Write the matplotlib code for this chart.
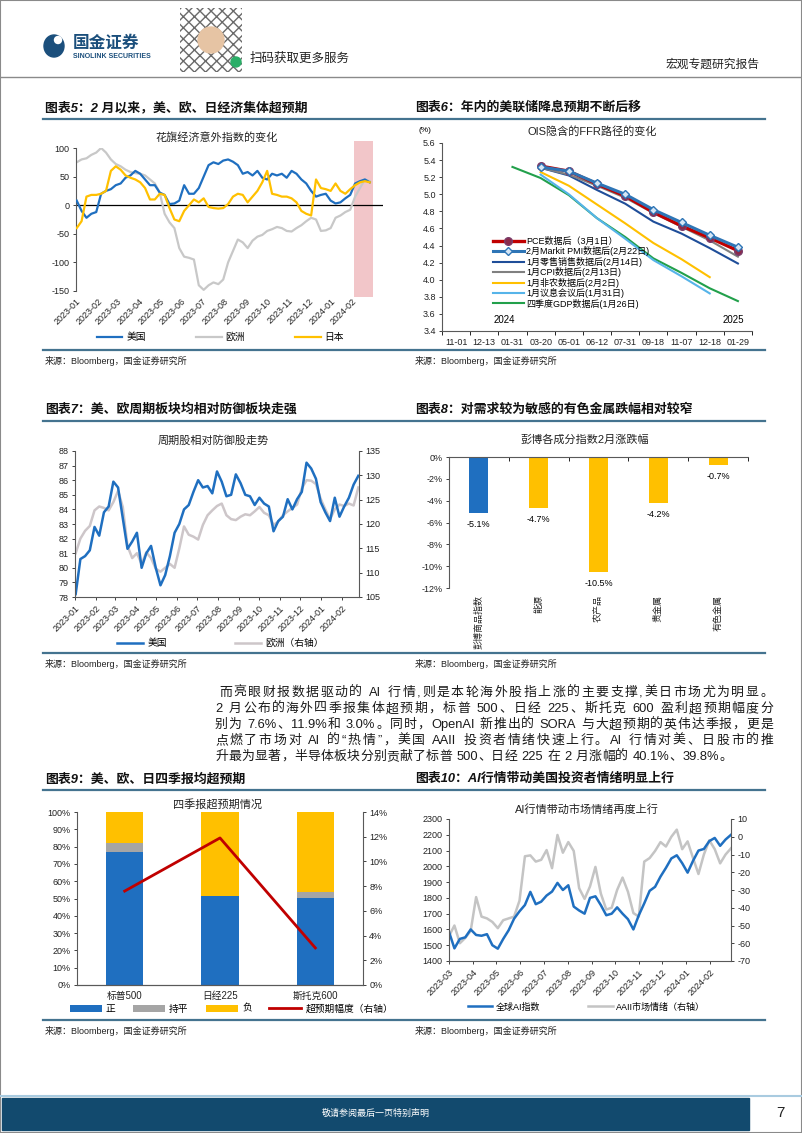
import re
import numpy as np
import pandas as pd
import matplotlib
matplotlib.use('Agg')
import matplotlib.pyplot as plt
from matplotlib.lines import Line2D
from matplotlib.patches import Rectangle, Ellipse
from matplotlib.ticker import FuncFormatter

plt.rcParams['font.family'] = ['Liberation Sans', 'Noto Sans CJK SC', 'DejaVu Sans']
plt.rcParams['axes.unicode_minus'] = False

# ---------------- data ----------------
# chart 5: Citi economic surprise index, weekly from 2023-01-02
us_csi = [8, -10, -22, -15, -12, 20, 25, 28, 35, 38, 48, 52, 60, 55, 45, 35, 35, 22, 18, 2,
          3, 8, 35, 20, 20, 30, 50, 70, 75, 72, 78, 80, 76, 70, 55, 58, 52, 60, 48, 45,
          55, 52, 55, 48, 60, 55, 45, 38, 25, 15, 18, 20, 8, 3, 5, 12, 18, 38, 42, 45, 40]
eu_csi = [75, 80, 82, 88, 92, 100, 92, 80, 72, 68, 62, 58, 56, 55, 52, 45, 38, 22, -15, -30,
          -40, -75, -90, -92, -95, -140, -148, -140, -135, -138, -130, -100, -80, -60, -65, -75, -62, -55, -52, -45,
          -42, -38, -40, -45, -46, -40, -35, -28, -22, -25, -45, -44, -40, -22, -18, -12, -8, 15, 30, 45, 42]
jp_csi = [-40, -28, 15, 18, 18, 20, 25, 60, 68, 62, 52, 48, 45, 40, 30, 10, 10, 20, 18, -5,
          -25, -28, -10, 0, 10, 5, 12, -3, -5, -6, -5, 2, 15, 20, 18, 5, 15, 25, 40, 60,
          20, 18, 15, 15, 12, 5, -10, -15, -18, 45, 30, 28, 25, 38, 25, 20, 28, 35, 40, 42, 40]

# chart 6: OIS implied FFR path by FOMC meeting
fomc_dates = ['11-01', '12-13', '01-31', '03-20', '05-01', '06-12', '07-31', '09-18', '11-07', '12-18', '01-29']
nan = np.nan
ffr_pce = [nan, nan, nan, 5.33, 5.27, 5.12, 4.98, 4.79, 4.63, 4.49, 4.34]
ffr_pmi = [nan, nan, nan, 5.32, 5.27, 5.13, 5.00, 4.82, 4.67, 4.52, 4.38]
ffr_retail = [nan, nan, nan, 5.31, 5.22, 5.05, 4.89, 4.68, 4.54, 4.37, 4.19]
ffr_cpi = [nan, nan, nan, 5.31, 5.23, 5.10, 4.96, 4.78, 4.62, 4.46, 4.27]
ffr_nfp = [nan, nan, nan, 5.26, 5.10, 4.88, 4.66, 4.43, 4.24, 4.03, nan]
ffr_fomc = [nan, nan, nan, 5.23, 5.00, 4.72, 4.48, 4.23, 4.04, 3.84, nan]
ffr_gdp = [nan, nan, 5.32, 5.19, 4.99, 4.72, 4.50, 4.25, 4.08, 3.90, 3.75]
ffr_labels = ['PCE数据后（3月1日）', '2月Markit PMI数据后(2月22日)', '1月零售销售数据后(2月14日)',
              '1月CPI数据后(2月13日)', '1月非农数据后(2月2日)', '1月议息会议后(1月31日)', '四季度GDP数据后(1月26日)']

# chart 7: cyclicals vs defensives, weekly from 2023-01-02
us_cyc = [78.2, 80.6, 80.8, 81.2, 82.8, 82.2, 83.8, 84.2, 85.9, 85.5, 83.4, 81.3, 81.8, 82.4, 80.0, 81.0,
          81.5, 80.0, 78.8, 79.5, 80.8, 82.4, 83.0, 84.0, 84.3, 85.2, 86.0, 85.5, 85.6, 85.1, 86.6, 85.9,
          84.9, 85.0, 86.4, 85.8, 85.0, 84.9, 84.3, 84.8, 84.4, 84.2, 82.5, 83.2, 83.5, 84.7, 84.0, 84.7,
          85.2, 87.2, 86.8, 86.1, 84.5, 83.8, 83.2, 84.8, 83.5, 84.2, 84.8, 85.7, 86.3]
eu_cyc = [114.0, 117.0, 118.6, 119.6, 122.8, 123.6, 123.3, 122.8, 124.5, 126.8, 123.5, 115.5, 113.0, 114.0,
          111.8, 114.2, 113.0, 110.8, 110.2, 111.0, 111.8, 111.0, 115.0, 119.5, 117.8, 117.4, 116.8, 119.8,
          121.8, 122.8, 123.7, 124.2, 121.8, 121.0, 120.8, 121.5, 122.0, 121.8, 122.6, 123.5, 122.3, 121.8,
          119.8, 120.5, 121.8, 122.6, 123.3, 124.0, 127.3, 129.0, 128.9, 128.2, 125.2, 123.0, 121.0, 123.0,
          124.0, 123.7, 124.2, 123.8, 127.5]

# chart 8: BCOM sub-index change in February (%)
bcom_names = ['彭博商品指数', '能源', '农产品', '贵金属', '有色金属']
bcom_chg = [-5.1, -4.7, -10.5, -4.2, -0.7]

# chart 9: Q4 earnings beats
idx9 = ['标普500', '日经225', '斯托克600']
beat_pos = [76.7, 51.5, 50.2]
beat_flat = [5.6, 0.0, 3.6]
beat_neg = [17.7, 48.5, 46.2]
beat_size = [7.6, 11.9, 3.0]

# chart 10: global AI index & AAII sentiment, weekly from 2023-03-01
ai_idx = [1585, 1480, 1540, 1550, 1600, 1565, 1560, 1570, 1500, 1478, 1540, 1595, 1668, 1715, 1755, 1838,
          1760, 1776, 1815, 1840, 1895, 1850, 1880, 1745, 1720, 1700, 1800, 1810, 1754, 1690, 1700, 1740,
          1700, 1665, 1600, 1690, 1765, 1845, 1870, 1935, 1990, 2050, 2070, 2020, 1960, 2035, 2100, 2110,
          2160, 2180, 2130, 2170, 2200]
aaii = [-56, -50, -60, -57, -53, -34, -45, -46, -48, -51.5, -47, -46, -45, -36, -11, -10.5,
        -14, -13, -7.5, -17.7, 1, -9, -3, -8, -29, -35, -28, -17, -32, -41, -40, -30,
        -23, -31, -43, -45, -14, -12, -8, -3, -5.5, 0, 4, -7, -2.6, -12, -21, -10,
        -2, -7, -15, -10, -6.5]

# body paragraph
body = ['而亮眼财报数据驱动的 AI 行情,则是本轮海外股指上涨的主要支撑,美日市场尤为明显。',
        '2 月公布的海外四季报集体超预期，标普 500、日经 225、斯托克 600 盈利超预期幅度分',
        '别为 7.6%、11.9%和 3.0%。同时，OpenAI 新推出的 SORA 与大超预期的英伟达季报，更是',
        '点燃了市场对 AI 的“热情”，美国 AAII 投资者情绪快速上行。AI 行情对美、日股市的推',
        '升最为显著，半导体板块分别贡献了标普 500、日经 225 在 2 月涨幅的 40.1%、39.8%。']

BLUE = '#1f6fc0'
YELLOW = '#ffc000'
GRAY = '#c8c8c8'
RULE = '#44738f'

W, H = 802, 1133
fig = plt.figure(figsize=(W / 100, H / 100), dpi=100)


def box(l, t, r, b):
    return [l / W, 1 - b / H, (r - l) / W, (b - t) / H]


def ftext(x, y, s, **kw):
    return fig.text(x / W, 1 - y / H, s, **kw)


def hline(x0, x1, y, **kw):
    fig.add_artist(Line2D([x0 / W, x1 / W], [1 - y / H] * 2, transform=fig.transFigure, **kw))


def style(ax, fs=6.5):
    ax.tick_params(labelsize=fs, length=2.5, width=0.6, colors='#222222', pad=2)
    for s in ax.spines.values():
        s.set_color('#595959')
        s.set_linewidth(0.8)


def legend_at(handles, labels, x, y, **kw):
    fig.legend(handles, labels, loc='center left', bbox_to_anchor=(x / W, 1 - y / H),
               frameon=False, borderpad=0, borderaxespad=0, **kw)


# ---------------- page frame / header / footer ----------------
fig.add_artist(Rectangle((0, 0), 1, 1, transform=fig.transFigure, fill=False, edgecolor='#8a8a8a', lw=1.5))
fig.add_artist(Ellipse((54 / W, 1 - 46 / H), 20 / W, 22 / H, transform=fig.transFigure, color='#1b4f7c'))
fig.add_artist(Ellipse((58 / W, 1 - 40 / H), 7 / W, 7 / H, transform=fig.transFigure, color='white'))
ftext(73, 43, '国金证券', fontsize=12, fontweight='bold', color='#1b4f7c', va='center')
ftext(73, 56, 'SINOLINK SECURITIES', fontsize=5, fontweight='bold', color='#1b4f7c', va='center')
fig.add_artist(Rectangle((180 / W, 1 - 72 / H), 62 / W, 64 / H, transform=fig.transFigure,
                         facecolor='white', edgecolor='#6a6a6a', hatch='xxx', lw=0))
fig.add_artist(Ellipse((211 / W, 1 - 40 / H), 26 / W, 26 / H, transform=fig.transFigure, color='#e6c4a4'))
fig.add_artist(Ellipse((236 / W, 1 - 62 / H), 10 / W, 10 / H, transform=fig.transFigure, color='#2aae67'))
ftext(250, 59, '扫码获取更多服务', fontsize=9, color='#222222', va='center')
ftext(760, 65, '宏观专题研究报告', fontsize=8.5, color='#222222', va='center', ha='right')
hline(0, 802, 77, color='#8a8a8a', lw=1)

hline(0, 802, 1096, color='#a9cbe0', lw=1.5)
fig.add_artist(Rectangle((2 / W, 1 - 1130 / H), 747 / W, 32 / H, transform=fig.transFigure, color='#124a6e'))
ftext(376, 1113, '敬请参阅最后一页特别声明', fontsize=6.5, color='white', ha='center', va='center')
ftext(780, 1113, '7', fontsize=11, color='#222222', ha='center', va='center')

# section titles and rules
for x, y, s in [(45, 108, '图表5：2 月以来，美、欧、日经济集体超预期'),
                (415, 108, '图表6：年内的美联储降息预期不断后移'),
                (45, 410, '图表7：美、欧周期板块均相对防御板块走强'),
                (415, 410, '图表8：对需求较为敏感的有色金属跌幅相对较窄'),
                (45, 779, '图表9：美、欧、日四季报均超预期'),
                (415, 779, '图表10：AI行情带动美国投资者情绪明显上行')]:
    ftext(x, y, s, fontsize=9.3, fontweight='bold', style='italic', color='#111111', va='center')
for y in [119, 350, 421, 653, 790, 1020]:
    hline(43, 765, y, color=RULE, lw=1.6)
for y in [361, 664, 1031]:
    ftext(45, y, '来源：Bloomberg，国金证券研究所', fontsize=6.5, color='#222222', va='center')
    ftext(415, y, '来源：Bloomberg，国金证券研究所', fontsize=6.5, color='#222222', va='center')

# ---------------- chart 5 ----------------
ax5 = fig.add_axes(box(76, 148, 383, 291))
d5 = pd.date_range('2023-01-02', periods=len(us_csi), freq='7D')
ax5.axvspan(pd.Timestamp('2024-02-04'), pd.Timestamp('2024-03-01'), ymin=-0.045, ymax=1.05,
            color='#f2c6c9', lw=0, zorder=0, clip_on=False)
ax5.axhline(0, color='black', lw=0.9, zorder=1)
l5e, = ax5.plot(d5, eu_csi, color=GRAY, lw=1.6, zorder=2)
l5u, = ax5.plot(d5, us_csi, color=BLUE, lw=1.6, zorder=3)
l5j, = ax5.plot(d5, jp_csi, color=YELLOW, lw=1.6, zorder=4)
ax5.set_ylim(-150, 100)
ax5.set_yticks([-150, -100, -50, 0, 50, 100])
ax5.set_xlim(pd.Timestamp('2023-01-01'), pd.Timestamp('2024-03-16'))
m5 = pd.date_range('2023-01-01', '2024-02-01', freq='MS')
ax5.set_xticks(m5)
ax5.set_xticklabels([m.strftime('%Y-%m') for m in m5], rotation=45, ha='right', rotation_mode='anchor')
style(ax5)
ax5.tick_params(axis='x', length=0, pad=4)
for s in ['top', 'right', 'bottom']:
    ax5.spines[s].set_visible(False)
ftext(217, 137, '花旗经济意外指数的变化', fontsize=8, ha='center', va='center', color='#222222')
legend_at([l5u, l5e, l5j], ['美国', '欧洲', '日本'], 97, 337, ncol=3, fontsize=7,
          handlelength=2.6, handletextpad=0.4, columnspacing=5.2)

# ---------------- chart 6 ----------------
ax6 = fig.add_axes(box(442, 143, 752, 331))
x6 = np.arange(len(fomc_dates))
h6 = []
h6.append(ax6.plot(x6, ffr_pce, color='#c00000', lw=2.4, marker='o', ms=5.5,
                   mfc='#8b2a4a', mec='#7a3d6b', zorder=5)[0])
h6.append(ax6.plot(x6, ffr_pmi, color='#2e75b6', lw=2.2, marker='D', ms=4,
                   mfc='#d6e6f5', mec='#2e75b6', zorder=6)[0])
h6.append(ax6.plot(x6, ffr_retail, color='#1f4e99', lw=1.5, zorder=4)[0])
h6.append(ax6.plot(x6, ffr_cpi, color='#808080', lw=1.5, zorder=4)[0])
h6.append(ax6.plot(x6, ffr_nfp, color=YELLOW, lw=1.5, zorder=3)[0])
h6.append(ax6.plot(x6, ffr_fomc, color='#56b4e9', lw=1.5, zorder=3)[0])
h6.append(ax6.plot(x6, ffr_gdp, color='#22a04b', lw=1.5, zorder=2)[0])
ax6.set_xlim(-0.5, 10.5)
ax6.set_ylim(3.4, 5.6)
ax6.set_yticks(np.arange(3.4, 5.61, 0.2))
ax6.yaxis.set_major_formatter(FuncFormatter(lambda v, p: f'{v:.1f}'))
ax6.set_xticks(x6)
ax6.set_xticklabels(fomc_dates)
ax6.set_xticks(np.arange(-0.5, 11, 1), minor=True)
style(ax6)
ax6.tick_params(axis='x', which='major', length=0, pad=5)
ax6.tick_params(axis='x', which='minor', length=3, width=0.6)
for s in ['top', 'right']:
    ax6.spines[s].set_visible(False)
ax6.text(1.7, 3.47, '2024', fontsize=7, ha='center', va='bottom')
ax6.text(9.85, 3.47, '2025', fontsize=7, ha='center', va='bottom')
ftext(425, 130, '(%)', fontsize=6, ha='center', va='center')
ftext(592, 131, 'OIS隐含的FFR路径的变化', fontsize=8, ha='center', va='center', color='#222222')
ax6.legend(h6, ffr_labels, loc='lower left', bbox_to_anchor=(0.15, 0.095), frameon=False, fontsize=6.5,
           handlelength=3.4, labelspacing=0.05, borderpad=0, handletextpad=0.3)

# ---------------- chart 7 ----------------
ax7 = fig.add_axes(box(75, 451, 359, 597))
ax7b = ax7.twinx()
d7 = pd.date_range('2023-01-02', periods=len(us_cyc), freq='7D')
l7e, = ax7b.plot(d7, eu_cyc, color='#cdc6c9', lw=1.8)
l7u, = ax7.plot(d7, us_cyc, color=BLUE, lw=1.8)
ax7.set_zorder(ax7b.get_zorder() + 1)
ax7.patch.set_visible(False)
ax7.set_ylim(78, 88)
ax7.set_yticks(range(78, 89))
ax7b.set_ylim(105, 135)
ax7b.set_yticks(range(105, 136, 5))
ax7.set_xlim(pd.Timestamp('2023-01-01'), pd.Timestamp('2024-02-27'))
m7 = pd.date_range('2023-01-01', '2024-02-01', freq='MS')
ax7.set_xticks(m7)
ax7.set_xticklabels([m.strftime('%Y-%m') for m in m7], rotation=45, ha='right', rotation_mode='anchor')
style(ax7)
style(ax7b)
ax7.tick_params(axis='x', length=2, pad=3)
for a in (ax7, ax7b):
    a.spines['top'].set_visible(False)
ax7.spines['right'].set_visible(False)
ax7b.spines['left'].set_visible(False)
ax7b.spines['bottom'].set_visible(False)
ftext(213, 441, '周期股相对防御股走势', fontsize=8, ha='center', va='center', color='#222222')
legend_at([l7u, l7e], ['美国', '欧洲（右轴）'], 117, 643, ncol=2, fontsize=7,
          handlelength=2.7, handletextpad=0.4, columnspacing=7.0)

# ---------------- chart 8 ----------------
ax8 = fig.add_axes(box(449, 457, 748, 588))
x8 = np.arange(len(bcom_names))
bars8 = ax8.bar(x8, bcom_chg, width=0.32, color=[BLUE] + [YELLOW] * 4)
ax8.bar_label(bars8, labels=[f'{v:.1f}%' for v in bcom_chg], padding=5, fontsize=6.5)
ax8.set_ylim(-12, 0)
ax8.set_xlim(-0.5, 4.5)
ax8.set_yticks(range(-12, 1, 2))
ax8.yaxis.set_major_formatter(FuncFormatter(lambda v, p: f'{v:.0f}%'))
ax8.set_xticks(x8)
ax8.set_xticklabels(bcom_names, rotation=90, fontsize=6.5)
ax8.set_xticks(np.arange(-0.5, 5, 1), minor=True)
style(ax8)
ax8.tick_params(axis='x', which='major', length=0, pad=5, labelsize=6.5)
ax8.tick_params(axis='x', which='minor', top=True, bottom=False, direction='in', length=3)
ax8.spines['bottom'].set_visible(False)
ax8.spines['right'].set_visible(False)
ftext(585, 440, '彭博各成分指数2月涨跌幅', fontsize=8, ha='center', va='center', color='#222222')

# ---------------- chart 9 ----------------
ax9 = fig.add_axes(box(77, 812, 363, 985))
x9 = np.arange(len(idx9))
b91 = ax9.bar(x9, beat_pos, width=0.39, color=BLUE)
b92 = ax9.bar(x9, beat_flat, width=0.39, bottom=beat_pos, color='#a5a5a5')
b93 = ax9.bar(x9, beat_neg, width=0.39, bottom=np.add(beat_pos, beat_flat), color=YELLOW)
ax9b = ax9.twinx()
l9, = ax9b.plot(x9, beat_size, color='#c00000', lw=2)
ax9.set_ylim(0, 100)
ax9.set_yticks(range(0, 101, 10))
ax9.yaxis.set_major_formatter(FuncFormatter(lambda v, p: f'{v:.0f}%'))
ax9b.set_ylim(0, 14)
ax9b.set_yticks(range(0, 15, 2))
ax9b.yaxis.set_major_formatter(FuncFormatter(lambda v, p: f'{v:.0f}%'))
ax9.set_xlim(-0.5, 2.5)
ax9.set_xticks(x9)
ax9.set_xticklabels(idx9)
style(ax9)
style(ax9b)
ax9.tick_params(axis='x', length=0, pad=4, labelsize=7)
for a in (ax9, ax9b):
    a.spines['top'].set_visible(False)
ax9.spines['right'].set_visible(False)
ax9b.spines['left'].set_visible(False)
ftext(218, 804, '四季报超预期情况', fontsize=8, ha='center', va='center', color='#222222')
legend_at([b91, b92, b93, l9], ['正', '持平', '负', '超预期幅度（右轴）'], 70, 1009, ncol=4, fontsize=7,
          handlelength=3.3, handleheight=0.8, handletextpad=0.4, columnspacing=1.8)

# ---------------- chart 10 ----------------
ax10 = fig.add_axes(box(449, 819, 731, 961))
ax10b = ax10.twinx()
d10 = pd.date_range('2023-03-01', periods=len(ai_idx), freq='7D')
l10b, = ax10b.plot(d10, aaii, color='#c4c4c4', lw=1.8)
l10a, = ax10.plot(d10, ai_idx, color=BLUE, lw=1.8)
ax10.set_zorder(ax10b.get_zorder() + 1)
ax10.patch.set_visible(False)
ax10.set_ylim(1400, 2300)
ax10.set_yticks(range(1400, 2301, 100))
ax10b.set_ylim(-70, 10)
ax10b.set_yticks(range(-70, 11, 10))
ax10.set_xlim(pd.Timestamp('2023-03-01'), pd.Timestamp('2024-02-28'))
m10 = pd.date_range('2023-03-01', '2024-02-01', freq='MS')
ax10.set_xticks(m10)
ax10.set_xticklabels([m.strftime('%Y-%m') for m in m10], rotation=45, ha='right', rotation_mode='anchor')
style(ax10)
style(ax10b)
ax10.tick_params(axis='x', length=2, pad=3)
for a in (ax10, ax10b):
    a.spines['top'].set_visible(False)
ax10.spines['right'].set_visible(False)
ax10b.spines['left'].set_visible(False)
ax10b.spines['bottom'].set_visible(False)
ftext(587, 809, 'AI行情带动市场情绪再度上行', fontsize=8, ha='center', va='center', color='#222222')
legend_at([l10a, l10b], ['全球AI指数', 'AAII市场情绪（右轴）'], 468, 1007, ncol=2, fontsize=6.5,
          handlelength=2.7, handletextpad=0.4, columnspacing=5.3)

# ---------------- body text (justified by spreading tokens) ----------------
body_y = [693, 709, 725, 741, 757]
fs_body = 9.3
renderer = fig.canvas.get_renderer()
for i, (s, y) in enumerate(zip(body, body_y)):
    x0 = 219 if i == 0 else 215
    toks = re.findall(r'[A-Za-z0-9.%]+| |.', s)
    items = []
    for tk in toks:
        if tk == ' ':
            items.append((None, fs_body * 1.389 * 0.28))
        else:
            t = ftext(0, y, tk, fontsize=fs_body, va='center', color='#1a1a1a')
            items.append((t, t.get_window_extent(renderer).width))
    total = sum(w for _, w in items)
    gap = (773 - x0 - total) / (len(items) - 1) if i < 4 else 0.3
    x = x0
    for t, w in items:
        if t is not None:
            t.set_x(x / W)
        x += w + gap

fig.savefig('out.png', dpi=100)
